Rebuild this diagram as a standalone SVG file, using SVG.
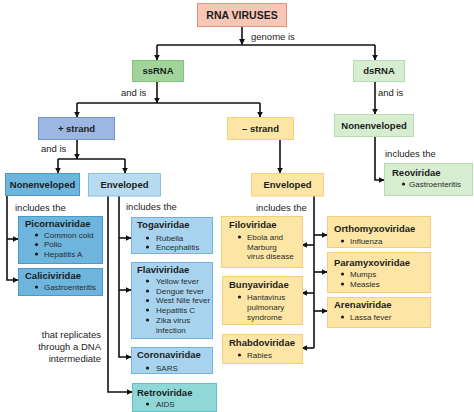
<svg xmlns="http://www.w3.org/2000/svg" width="474" height="412" viewBox="0 0 474 412">
<defs>
<marker id="ah" viewBox="0 0 10 10" refX="9" refY="5" markerWidth="6" markerHeight="6" markerUnits="userSpaceOnUse" orient="auto">
<path d="M0,0 L10,5 L0,10 z" fill="#111"/>
</marker>
<style>
text{font-family:"Liberation Sans",Arial,sans-serif;fill:#1c1c1c}
.t{font-size:9.5px;font-weight:bold}
.tt{font-size:10.5px;font-weight:bold}
.c{text-anchor:middle}
.l{font-size:9.5px}
.b{font-size:8px;fill:#2a2a2a}
.dot{fill:#1c1c1c}
.cn line,.cn polyline{stroke:#111;stroke-width:1.6;fill:none}
.ar{marker-end:url(#ah)}
.salmon{fill:#f8c6b6;stroke:#e8917c}
.green{fill:#a0d49b;stroke:#83c27c}
.lgreen{fill:#d7edd0;stroke:#b6dbac}
.pblue{fill:#9bb7e2;stroke:#6e93cf}
.yel{fill:#fde6a5;stroke:#f2cf78}
.mblue{fill:#6db5dd;stroke:#4a99c8}
.lblue{fill:#b8dbf0;stroke:#86c0e3}
.sblue{fill:#a7d3ef;stroke:#6fb1df}
.teal{fill:#90d8d8;stroke:#5fc2c2}
rect{stroke-width:1}
</style>
</defs>

<g class="cn" id="connectors">
<line class="ar" x1="242" y1="26" x2="242" y2="44.5"/>
<line x1="157" y1="45" x2="375" y2="45"/>
<line class="ar" x1="157" y1="45" x2="157" y2="60"/>
<line class="ar" x1="375" y1="45" x2="375" y2="60"/>
<line class="ar" x1="157" y1="81" x2="157" y2="103"/>
<line x1="77" y1="103" x2="260" y2="103"/>
<line class="ar" x1="77" y1="103" x2="77" y2="117"/>
<line class="ar" x1="260" y1="103" x2="260" y2="117"/>
<line class="ar" x1="375" y1="81" x2="375" y2="114"/>
<line class="ar" x1="77" y1="139" x2="77" y2="159"/>
<line x1="58" y1="159" x2="125" y2="159"/>
<line class="ar" x1="58" y1="159" x2="58" y2="173"/>
<line class="ar" x1="125" y1="159" x2="125" y2="173"/>
<polyline class="ar" points="7,195 7,280 18,280"/>
<line class="ar" x1="7" y1="239" x2="18" y2="239"/>
<polyline class="ar" points="119,196 119,357 131,357"/>
<line class="ar" x1="119" y1="238" x2="131" y2="238"/>
<line class="ar" x1="119" y1="290" x2="131" y2="290"/>
<polyline class="ar" points="108,196 108,392 132,392"/>
<line class="ar" x1="280" y1="139" x2="280" y2="173"/>
<line x1="314" y1="196" x2="314" y2="348"/>
<line class="ar" x1="314" y1="235" x2="327" y2="235"/>
<line class="ar" x1="314" y1="272" x2="327" y2="272"/>
<line class="ar" x1="314" y1="311" x2="327" y2="311"/>
<line class="ar" x1="314" y1="245" x2="302" y2="245"/>
<line class="ar" x1="314" y1="293" x2="302" y2="293"/>
<line class="ar" x1="314" y1="348" x2="302" y2="348"/>
<polyline class="ar" points="375,136 375,180 384,180"/>
</g>

<g id="labels">
<text class="l" x="251" y="39.5">genome is</text>
<text class="l" x="121" y="95.5">and is</text>
<text class="l" x="378" y="95.5">and is</text>
<text class="l" x="41" y="151.5">and is</text>
<text class="l" x="15" y="210.5">includes the</text>
<text class="l" x="126" y="209.5">includes the</text>
<text class="l" x="256" y="210.5">includes the</text>
<text class="l" x="385" y="156.5">includes the</text>
<text class="l" x="101" y="337.5" text-anchor="end">that replicates</text>
<text class="l" x="101" y="349.5" text-anchor="end">through a DNA</text>
<text class="l" x="101" y="361.5" text-anchor="end">intermediate</text>
</g>

<g id="rna-viruses"><rect class="salmon" x="197.5" y="3.5" width="89" height="23"/><text class="tt c" x="242" y="18.8">RNA VIRUSES</text></g>
<g id="ssrna"><rect class="green" x="132.5" y="60.5" width="51" height="21"/><text class="t c" x="158" y="74.3">ssRNA</text></g>
<g id="dsrna"><rect class="lgreen" x="353.5" y="60.5" width="51" height="21"/><text class="t c" x="379" y="74.3">dsRNA</text></g>
<g id="plus-strand"><rect class="pblue" x="38.5" y="117.5" width="76" height="22"/><text class="t c" x="76.5" y="131.8">+ strand</text></g>
<g id="minus-strand"><rect class="yel" x="227.5" y="117.5" width="66" height="22"/><text class="t c" x="260.5" y="131.8">– strand</text></g>
<g id="ds-nonenveloped"><rect class="lgreen" x="334.5" y="114.5" width="79" height="22"/><text class="t c" x="374" y="128.8">Nonenveloped</text></g>
<g id="plus-nonenveloped"><rect class="mblue" x="5.5" y="173.5" width="74" height="22"/><text class="t c" x="42.5" y="187.8">Nonenveloped</text></g>
<g id="plus-enveloped"><rect class="lblue" x="88.5" y="173.5" width="72" height="22.5"/><text class="t c" x="124.5" y="188">Enveloped</text></g>
<g id="minus-enveloped"><rect class="yel" x="251.5" y="173.5" width="72" height="22.5"/><text class="t c" x="287.5" y="188">Enveloped</text></g>

<g id="picornaviridae"><rect class="mblue" x="18.5" y="216.5" width="84" height="47"/>
<text class="t" x="25" y="226.5">Picornaviridae</text>
<circle class="dot" cx="36.5" cy="235" r="1.6"/><text class="b" x="44" y="237.8">Common cold</text>
<circle class="dot" cx="36.5" cy="244.5" r="1.6"/><text class="b" x="44" y="247.3">Polio</text>
<circle class="dot" cx="36.5" cy="254" r="1.6"/><text class="b" x="44" y="256.8">Hepatitis A</text></g>

<g id="caliciviridae"><rect class="mblue" x="18.5" y="268.5" width="84" height="27"/>
<text class="t" x="25" y="278.5">Caliciviridae</text>
<circle class="dot" cx="36.5" cy="287" r="1.6"/><text class="b" x="44" y="289.8">Gastroenteritis</text></g>

<g id="togaviridae"><rect class="sblue" x="131.5" y="217.5" width="81" height="36"/>
<text class="t" x="137" y="227.5">Togaviridae</text>
<circle class="dot" cx="147.5" cy="238" r="1.6"/><text class="b" x="156" y="240.8">Rubella</text>
<circle class="dot" cx="147.5" cy="247" r="1.6"/><text class="b" x="156" y="249.8">Encephalitis</text></g>

<g id="flaviviridae"><rect class="sblue" x="131.5" y="262.5" width="81" height="76"/>
<text class="t" x="137" y="272.5">Flaviviridae</text>
<circle class="dot" cx="147.5" cy="281" r="1.6"/><text class="b" x="156" y="283.8">Yellow fever</text>
<circle class="dot" cx="147.5" cy="291" r="1.6"/><text class="b" x="156" y="293.8">Dengue fever</text>
<circle class="dot" cx="147.5" cy="300.5" r="1.6"/><text class="b" x="156" y="303.3">West Nile fever</text>
<circle class="dot" cx="147.5" cy="310" r="1.6"/><text class="b" x="156" y="312.8">Hepatitis C</text>
<circle class="dot" cx="147.5" cy="320" r="1.6"/><text class="b" x="156" y="322.8">Zika virus</text>
<text class="b" x="156" y="332.8">infection</text></g>

<g id="coronaviridae"><rect class="sblue" x="131.5" y="347.5" width="81" height="26"/>
<text class="t" x="137" y="357.5">Coronaviridae</text>
<circle class="dot" cx="147.5" cy="368" r="1.6"/><text class="b" x="156" y="370.8">SARS</text></g>

<g id="retroviridae"><rect class="teal" x="132.5" y="383.5" width="84" height="28"/>
<text class="t" x="137" y="395.5">Retroviridae</text>
<circle class="dot" cx="147.5" cy="404" r="1.6"/><text class="b" x="156" y="406.8">AIDS</text></g>

<g id="filoviridae"><rect class="yel" x="221.5" y="216.5" width="81" height="51"/>
<text class="t" x="229" y="227.5">Filoviridae</text>
<circle class="dot" cx="239.5" cy="237" r="1.6"/><text class="b" x="247" y="239.8">Ebola and</text>
<text class="b" x="247" y="249.8">Marburg</text>
<text class="b" x="247" y="258.8">virus disease</text></g>

<g id="bunyaviridae"><rect class="yel" x="222.5" y="276.5" width="80" height="48"/>
<text class="t" x="229" y="287.5">Bunyaviridae</text>
<circle class="dot" cx="239.5" cy="297" r="1.6"/><text class="b" x="247" y="299.8">Hantavirus</text>
<text class="b" x="247" y="309.8">pulmonary</text>
<text class="b" x="247" y="319.8">syndrome</text></g>

<g id="rhabdoviridae"><rect class="yel" x="222.5" y="334.5" width="80" height="29"/>
<text class="t" x="229" y="345.5">Rhabdoviridae</text>
<circle class="dot" cx="239.5" cy="355" r="1.6"/><text class="b" x="247" y="357.8">Rabies</text></g>

<g id="orthomyxoviridae"><rect class="yel" x="327.5" y="216.5" width="103" height="31"/>
<text class="t" x="334" y="231.5">Orthomyxoviridae</text>
<circle class="dot" cx="342.5" cy="241" r="1.6"/><text class="b" x="350" y="243.8">Influenza</text></g>

<g id="paramyxoviridae"><rect class="yel" x="327.5" y="252.5" width="103" height="40"/>
<text class="t" x="334" y="265.5">Paramyxoviridae</text>
<circle class="dot" cx="342.5" cy="274" r="1.6"/><text class="b" x="350" y="276.8">Mumps</text>
<circle class="dot" cx="342.5" cy="284" r="1.6"/><text class="b" x="350" y="286.8">Measles</text></g>

<g id="arenaviridae"><rect class="yel" x="327.5" y="297.5" width="103" height="30"/>
<text class="t" x="334" y="307.5">Arenaviridae</text>
<circle class="dot" cx="342.5" cy="317" r="1.6"/><text class="b" x="350" y="319.8">Lassa fever</text></g>

<g id="reoviridae"><rect class="lgreen" x="384.5" y="163.5" width="88" height="32"/>
<text class="t" x="392" y="175.5">Reoviridae</text>
<circle class="dot" cx="403.5" cy="184" r="1.6"/><text class="b" x="409" y="186.8">Gastroenteritis</text></g>
</svg>
